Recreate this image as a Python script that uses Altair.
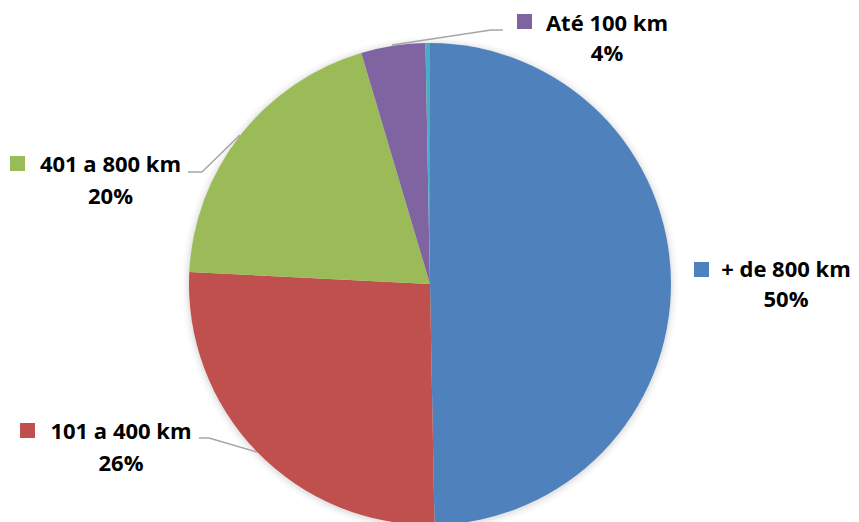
import altair as alt
import pandas as pd

# ---- data ----
categories = ["+ de 800 km", "101 a 400 km", "401 a 800 km", "Até 100 km", "Outros"]
values = [49.7, 26.1, 19.6, 4.3, 0.3]
pct_labels = ["50%", "26%", "20%", "4%", ""]
colors = ["#4F81BD", "#C0504D", "#9BBB59", "#8064A2", "#4BACC6"]

df = pd.DataFrame({
    "cat": categories,
    "value": values,
    "order": list(range(len(categories))),
})

# ---- layout (chart pixel coords, page minus 8px margin) ----
OFF = 8
CX, CY, R = 430 - OFF, 284 - OFF, 241
FONT = "Open Sans"
FS = 22

# label anchors: (square center x, square center y, text center x, name y, pct y)
label_pos = {
    "+ de 800 km": (701.5, 269.5, 786, 270, 300),
    "101 a 400 km": (27.5, 430.5, 121, 431.5, 464),
    "401 a 800 km": (17.5, 163.5, 110.5, 165, 197),
    "Até 100 km": (524.5, 21.5, 607, 24, 54),
}
leaders = [
    [(503, 30), (491, 30), (392, 45)],
    [(188, 172), (202, 172), (240, 135)],
    [(199, 438), (209, 438), (257, 452)],
]

color_scale = alt.Scale(domain=categories, range=colors)

base = alt.Chart(df)

layers = []
# soft shadow
for dr, op in [(7, 0.03), (5, 0.04), (3, 0.06), (1.5, 0.08)]:
    layers.append(
        base.mark_arc(radius=R + dr, color="#888888", opacity=op).encode(
            theta=alt.Theta("value:Q", stack=True),
            order=alt.Order("order:Q"),
            x=alt.value(CX), y=alt.value(CY + 1),
        )
    )

pie = base.mark_arc(radius=R).encode(
    theta=alt.Theta("value:Q", stack=True),
    color=alt.Color("cat:N", scale=color_scale, legend=None),
    order=alt.Order("order:Q"),
    x=alt.value(CX), y=alt.value(CY),
)
layers.append(pie)

# leader lines
for pts in leaders:
    for (x1, y1), (x2, y2) in zip(pts[:-1], pts[1:]):
        layers.append(
            alt.Chart(pd.DataFrame({"a": [0]})).mark_rule(color="#A6A6A6", strokeWidth=1.5).encode(
                x=alt.value(x1 - OFF), y=alt.value(y1 - OFF),
                x2=alt.value(x2 - OFF), y2=alt.value(y2 - OFF),
            )
        )

# labels
for cat, pct, col in zip(categories, pct_labels, colors):
    if cat not in label_pos:
        continue
    sx, sy, tx, ny, py = label_pos[cat]
    one = alt.Chart(pd.DataFrame({"cat": [cat], "pct": [pct]}))
    layers.append(
        one.mark_square(size=225, color=col, opacity=1, filled=True).encode(
            x=alt.value(sx - OFF), y=alt.value(sy - OFF)
        )
    )
    layers.append(
        one.mark_text(font=FONT, fontSize=FS, fontWeight="bold", color="#000000",
                      align="center", baseline="middle").encode(
            text="cat:N", x=alt.value(tx - OFF), y=alt.value(ny - OFF)
        )
    )
    layers.append(
        one.mark_text(font=FONT, fontSize=FS, fontWeight="bold", color="#000000",
                      align="center", baseline="middle").encode(
            text="pct:N", x=alt.value(tx - OFF), y=alt.value(py - OFF)
        )
    )

chart = alt.layer(*layers).properties(
    width=843, height=514, padding=0,
    autosize=alt.AutoSizeParams(type="none"),
    background="white",
).configure_view(stroke=None)

chart.save("out.html", embed_options={"renderer": "svg", "actions": False})
